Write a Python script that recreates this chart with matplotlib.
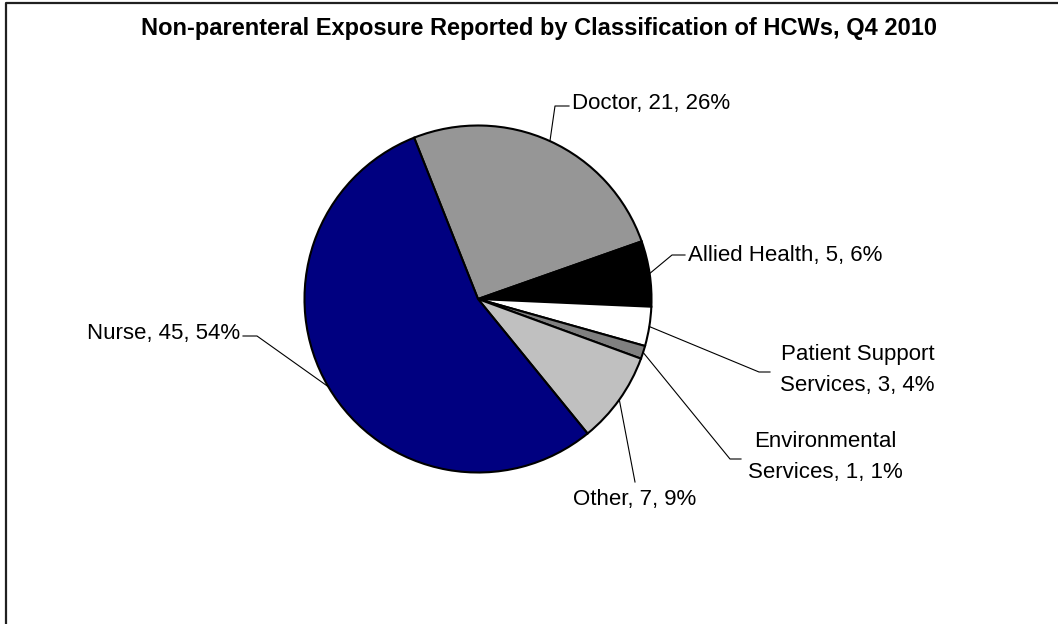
import matplotlib
matplotlib.use("Agg")
import matplotlib.pyplot as plt
import numpy as np

plt.rcParams['font.family'] = ['Liberation Sans', 'DejaVu Sans']

# data
categories = ["Doctor", "Allied Health", "Patient Support\nServices", "Environmental\nServices", "Other", "Nurse"]
counts = [21, 5, 3, 1, 7, 45]
percents = [26, 6, 4, 1, 9, 54]
colors = ["#969696", "#000000", "#ffffff", "#808080", "#c0c0c0", "#000080"]

# label layout in pixel coordinates (x, y from top), elbow point, alignment
label_pos = [(572, 103), (688, 255), (935, 370), (825, 457), (635, 500), (240, 333)]
elbow_pos = [(555, 106), (672, 255), (759, 372), (730, 459), (635, 482), (257, 336)]
label_ha = ["left", "left", "right", "center", "center", "right"]

W, H = 1058, 624
fig = plt.figure(figsize=(W / 100, H / 100), dpi=100)
ax = fig.add_axes([0, 0, 1, 1])

cx, cy, r = 478, H - 299, 173.5
wedges, _ = ax.pie(counts, colors=colors, startangle=111.6, counterclock=False,
                   center=(cx, cy), radius=r, frame=True,
                   wedgeprops=dict(edgecolor="black", linewidth=1.5))
ax.set_xlim(0, W)
ax.set_ylim(0, H)
ax.axis("off")

for i, w in enumerate(wedges):
    mid = np.deg2rad((w.theta1 + w.theta2) / 2)
    px, py = cx + r * np.cos(mid), cy + r * np.sin(mid)
    ex, ey = elbow_pos[i]
    lx, ly = label_pos[i]
    ey = H - ey
    if label_ha[i] == "left":
        xs, ys = [px, ex, lx - 3], [py, ey, ey]
    elif label_ha[i] == "right":
        xs, ys = [px, ex, lx + 3], [py, ey, ey]
    else:
        xs, ys = [px, ex], [py, ey]
    if "\n" in categories[i]:
        xs, ys = [px, ex, ex + 11], [py, ey, ey]
    ax.plot(xs, ys, color="black", linewidth=0.8)
    txt = f"{categories[i]}, {counts[i]}, {percents[i]}%"
    ax.text(lx, H - ly, txt, ha=label_ha[i], va="center", fontsize=16,
            linespacing=1.6, multialignment=label_ha[i])

fig.text(539 / W, 1 - 28 / H, "Non-parenteral Exposure Reported by Classification of HCWs, Q4 2010",
         ha="center", va="center", fontsize=17, fontweight="bold")

# chart border (right and bottom edges lie outside the image)
ax.plot([5.5, 5.5, W + 5], [-5, H - 2.5, H - 2.5], color="#202020", linewidth=1.6, clip_on=False)

fig.savefig("out.png", dpi=100)
